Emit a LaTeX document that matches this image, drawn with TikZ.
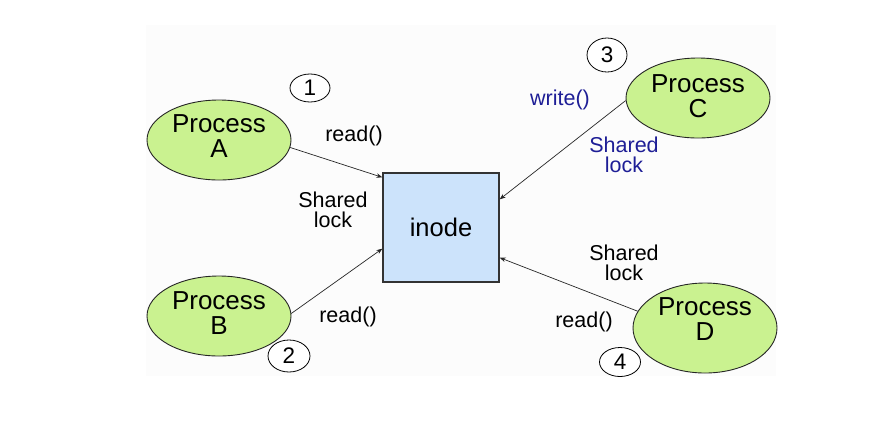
\documentclass[tikz,border=0pt]{standalone}
\usepackage{fontspec}
\setmainfont{Liberation Sans}
\usetikzlibrary{shapes.geometric,arrows.meta}
\definecolor{procgreen}{HTML}{CAF290}
\definecolor{inodeblue}{HTML}{CCE3FB}
\definecolor{labelblue}{HTML}{1E1E96}
\definecolor{bgpanel}{HTML}{FCFCFC}
\tikzset{
  proc/.style={ellipse, draw=black!85, line width=0.9pt, fill=procgreen, minimum width=144pt, minimum height=80pt, inner sep=0pt, align=center, font=\fontsize{26}{25}\selectfont},
  numcirc/.style={ellipse, draw=black, line width=0.8pt, fill=white, inner sep=0pt, font=\fontsize{22.5}{22}\selectfont},
  lbl/.style={align=center, inner sep=0pt, font=\fontsize{21.5}{20.5}\selectfont},
  conn/.style={draw=black!85, line width=0.7pt, -{Stealth[length=6pt,width=4.5pt]}}
}
\begin{document}
\begin{tikzpicture}[x=1pt,y=-1pt]
\useasboundingbox (0,0) rectangle (882,424);
\fill[white] (0,0) rectangle (882,424);
\fill[bgpanel] (146,25) rectangle (776,376);
% inode box
\node[draw=black!80, line width=1.3pt, fill=inodeblue, minimum width=116pt, minimum height=109pt, inner sep=0pt, font=\fontsize{25.5}{26}\selectfont] (inode) at (441,227.5) {inode};
% processes
\node[proc, text depth=7pt] (A) at (219,140) {Process\\A};
\node[proc, text depth=5pt] (B) at (219,316) {Process\\B};
\node[proc, text depth=4pt] (C) at (698,98) {Process\\C};
\node[proc, text depth=18pt, minimum height=90pt] (D) at (705,328) {Process\\D};
% numbers
\node[numcirc, minimum width=40pt, minimum height=28pt] (n1) at (310,88) {1};
\node[numcirc, minimum width=42pt, minimum height=32pt] (n2) at (289,356) {2};
\node[numcirc, minimum width=40pt, minimum height=34pt] (n3) at (607,55) {3};
\node[numcirc, minimum width=41pt, minimum height=29pt] (n4) at (620,362) {4};
% labels
\node[lbl] (rA) at (354,136) {read()};
\node[lbl] (sA) at (333,210) {Shared\\lock};
\node[lbl] (rB) at (348,317) {read()};
\node[lbl, text=labelblue] (wC) at (560,100) {write()};
\node[lbl, text=labelblue] (sC) at (624,155) {Shared\\lock};
\node[lbl] (sD) at (624,263) {Shared\\lock};
\node[lbl] (rD) at (584,322) {read()};
% connectors
\draw[conn] (A.-6) -- ([yshift=-5pt]inode.north west);
\draw[conn] (B.2) -- ([yshift=34pt]inode.south west);
\draw[conn] (C.182) -- ([yshift=-27pt]inode.north east);
\draw[conn] (D.166) -- ([yshift=25pt]inode.south east);
\end{tikzpicture}
\end{document}
